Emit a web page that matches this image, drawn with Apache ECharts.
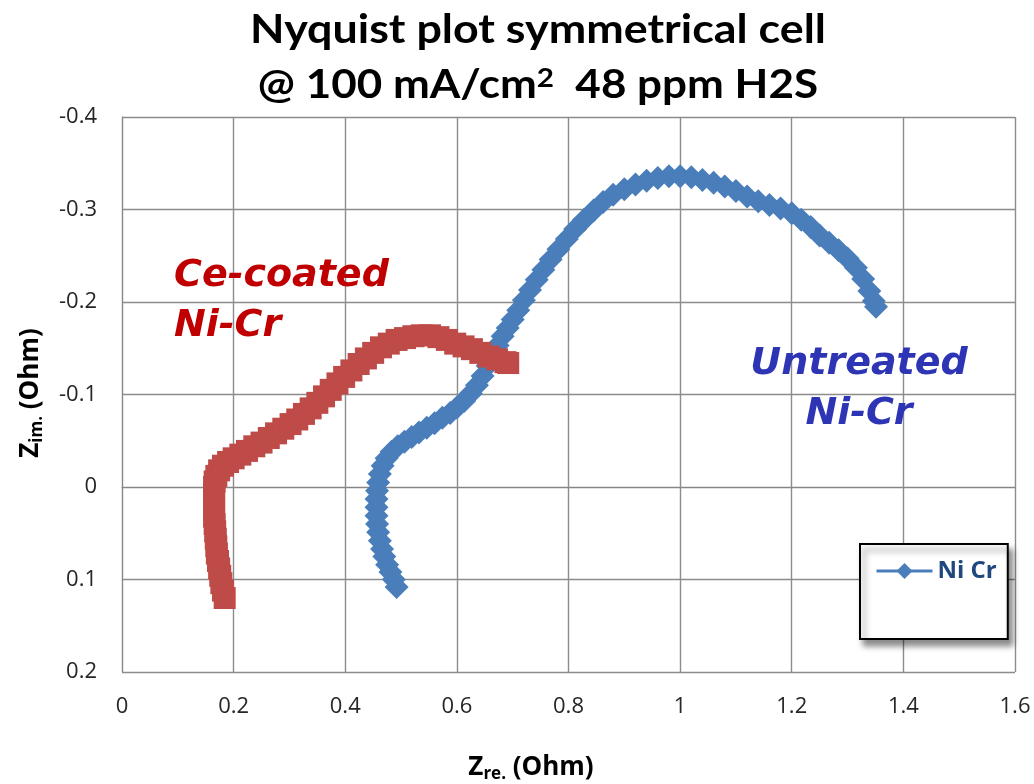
<!DOCTYPE html>
<html>
<head>
<meta charset="utf-8">
<script src="https://cdn.jsdelivr.net/npm/echarts@6/dist/echarts.min.js"></script>
<style>
html,body{margin:0;padding:0;background:#fff;}
#chart{width:1034px;height:784px;}
</style>
</head>
<body>
<div id="chart"></div>
<script>
// Untreated Ni-Cr (blue diamonds): [Z_re, Z_im]
const untreatedNiCr = [
  [0.492,0.108],[0.487,0.100],[0.481,0.092],[0.475,0.084],[0.470,0.075],[0.466,0.067],
  [0.462,0.058],[0.459,0.049],[0.457,0.040],[0.456,0.031],[0.456,0.022],[0.456,0.013],
  [0.457,0.004],[0.459,-0.005],[0.462,-0.014],[0.467,-0.023],[0.474,-0.031],[0.483,-0.038],
  [0.494,-0.044],[0.506,-0.049],[0.519,-0.054],[0.532,-0.059],[0.546,-0.064],[0.560,-0.069],
  [0.574,-0.075],[0.588,-0.080],[0.600,-0.086],[0.613,-0.093],[0.625,-0.101],[0.636,-0.110],
  [0.646,-0.120],[0.655,-0.131],[0.664,-0.142],[0.673,-0.153],[0.682,-0.163],[0.691,-0.172],
  [0.700,-0.181],[0.710,-0.191],[0.720,-0.202],[0.731,-0.213],[0.743,-0.224],[0.755,-0.235],
  [0.768,-0.246],[0.782,-0.257],[0.797,-0.268],[0.812,-0.279],[0.828,-0.289],[0.845,-0.299],
  [0.862,-0.308],[0.880,-0.316],[0.900,-0.322],[0.920,-0.327],[0.940,-0.331],[0.960,-0.334],
  [0.980,-0.336],[1.000,-0.336],[1.020,-0.335],[1.040,-0.332],[1.060,-0.329],[1.080,-0.325],
  [1.100,-0.320],[1.120,-0.314],[1.140,-0.309],[1.160,-0.305],[1.180,-0.301],[1.200,-0.296],
  [1.217,-0.289],[1.234,-0.281],[1.250,-0.272],[1.267,-0.264],[1.284,-0.256],[1.300,-0.247],
  [1.315,-0.237],[1.328,-0.225],[1.339,-0.212],[1.347,-0.201],[1.351,-0.195]
];
// Ce-coated Ni-Cr (red squares): [Z_re, Z_im]
const ceCoatedNiCr = [
  [0.184,0.120],[0.181,0.112],[0.178,0.104],[0.176,0.096],[0.174,0.088],[0.172,0.080],
  [0.170,0.072],[0.169,0.064],[0.168,0.056],[0.167,0.048],[0.166,0.040],[0.165,0.032],
  [0.165,0.024],[0.165,0.016],[0.165,0.008],[0.165,0.000],[0.166,-0.006],[0.169,-0.012],
  [0.174,-0.018],[0.181,-0.023],[0.190,-0.027],[0.200,-0.031],[0.212,-0.035],[0.224,-0.039],
  [0.237,-0.044],[0.250,-0.048],[0.263,-0.053],[0.276,-0.058],[0.289,-0.063],[0.302,-0.068],
  [0.314,-0.073],[0.326,-0.079],[0.338,-0.085],[0.350,-0.091],[0.362,-0.098],[0.374,-0.105],
  [0.386,-0.112],[0.398,-0.119],[0.411,-0.126],[0.424,-0.133],[0.437,-0.139],[0.450,-0.145],
  [0.464,-0.151],[0.478,-0.155],[0.492,-0.159],[0.507,-0.161],[0.522,-0.163],[0.537,-0.164],
  [0.552,-0.164],[0.567,-0.162],[0.582,-0.159],[0.597,-0.155],[0.612,-0.152],[0.627,-0.149],
  [0.642,-0.145],[0.657,-0.141],[0.672,-0.138],[0.687,-0.135],[0.692,-0.134]
];
const seriesNames = ['Ni Cr', 'Ce-coated Ni-Cr'];
const legendNames = ['Ni Cr'];
const titleLine1 = 'Nyquist plot symmetrical cell';
const titleLine2 = '@ 100 mA/cm{sup|2}  48 ppm H2S';
const xAxisName = 'Z{sub|re.} (Ohm)';
const yAxisName = 'Z{sub|im.} (Ohm)';
const labelRed = 'Ce-coated\nNi-Cr';
const labelBlue = 'Untreated\nNi-Cr';
const xTicks = {min: 0, max: 1.6, step: 0.2};
const yTicks = {min: -0.4, max: 0.2, step: 0.1};

const BLUE = '#4A7EBB';
const RED = '#BE4B48';
const fmt = v => String(+(+v).toFixed(2));

const chart = echarts.init(document.getElementById('chart'), null, {renderer: 'canvas'});
chart.setOption({
  backgroundColor: '#ffffff',
  animation: false,
  grid: {left: 122, top: 117, right: 19, bottom: 112, containLabel: false},
  xAxis: {
    type: 'value', min: xTicks.min, max: xTicks.max, interval: xTicks.step,
    axisLine: {show: true, lineStyle: {color: '#868686', width: 1}},
    axisTick: {show: false},
    splitLine: {show: true, lineStyle: {color: '#8c8c8c', width: 1.4}},
    axisLabel: {formatter: fmt, margin: 24, fontSize: 22, color: '#262626', fontFamily: 'Open Sans'}
  },
  yAxis: {
    type: 'value', inverse: true, min: yTicks.min, max: yTicks.max, interval: yTicks.step,
    axisLine: {show: true, lineStyle: {color: '#868686', width: 1}},
    axisTick: {show: false},
    splitLine: {show: true, lineStyle: {color: '#8c8c8c', width: 1.4}},
    axisLabel: {formatter: fmt, margin: 25, fontSize: 22, color: '#262626', fontFamily: 'Open Sans'}
  },
  legend: {
    data: legendNames, left: 860, top: 544, orient: 'vertical',
    itemWidth: 56, itemHeight: 20, itemGap: 0,
    padding: [15, 11, 56, 15],
    backgroundColor: '#ffffff', borderColor: '#000000', borderWidth: 2,
    shadowBlur: 6, shadowColor: 'rgba(0,0,0,0.45)', shadowOffsetX: 4, shadowOffsetY: 6,
    lineStyle: {width: 3},
    textStyle: {fontSize: 24, fontWeight: 'bold', color: '#1F497D', fontFamily: 'Open Sans'}
  },
  series: [
    {
      name: seriesNames[0], type: 'line', data: untreatedNiCr, z: 2,
      symbol: 'diamond', symbolSize: 24, showSymbol: true,
      itemStyle: {color: BLUE},
      lineStyle: {color: BLUE, width: 8}
    },
    {
      name: seriesNames[1], type: 'line', data: ceCoatedNiCr, z: 3,
      symbol: 'rect', symbolSize: 22, showSymbol: true,
      itemStyle: {color: RED},
      lineStyle: {color: RED, width: 8}
    }
  ],
  graphic: [
    {type: 'text', x: 538, y: 10, z: 10, scaleX: 1.12, style: {
      text: titleLine1, align: 'center', verticalAlign: 'top',
      font: 'bold 40px Lato', fill: '#000'}},
    {type: 'text', x: 538, y: 65, z: 10, scaleX: 1.1, style: {
      text: titleLine2, align: 'center', verticalAlign: 'top',
      font: 'bold 40px Lato', fill: '#000',
      rich: {sup: {font: 'bold 27px Lato', fill: '#000', verticalAlign: 'top', lineHeight: 40}}}},
    {type: 'text', x: 531, y: 768, z: 10, style: {
      text: xAxisName, align: 'center', verticalAlign: 'middle',
      font: 'bold 26px "Open Sans"', fill: '#000',
      rich: {sub: {font: 'bold 17px "Open Sans"', fill: '#000', verticalAlign: 'bottom', lineHeight: 30}}}},
    {type: 'text', x: 31, y: 393, rotation: Math.PI / 2, z: 10, style: {
      text: yAxisName, align: 'center', verticalAlign: 'middle',
      font: 'bold 26px "Open Sans"', fill: '#000',
      rich: {sub: {font: 'bold 17px "Open Sans"', fill: '#000', verticalAlign: 'bottom', lineHeight: 30}}}},
    {type: 'text', x: 174, y: 251, z: 10, style: {
      text: labelRed, align: 'left', verticalAlign: 'top', lineHeight: 50,
      font: 'italic bold 38px "DejaVu Sans"', fill: '#C00000'}},
    {type: 'text', x: 859, y: 339, z: 10, style: {
      text: labelBlue, align: 'center', verticalAlign: 'top', lineHeight: 50,
      font: 'italic bold 38px "DejaVu Sans"', fill: '#2E35B5'}}
  ]
});
</script>
</body>
</html>
